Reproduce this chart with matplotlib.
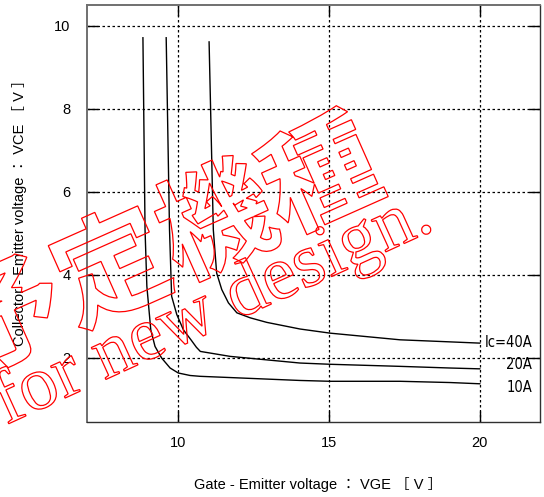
import matplotlib
matplotlib.use("Agg")
import matplotlib.pyplot as plt
import matplotlib.patheffects as pe

# Curves (VGE [V], VCE [V])
vge_10a = [8.85, 8.92, 8.98, 9.11, 9.25, 9.47, 9.75, 10.02, 10.41, 10.74, 11.74, 14.05, 15.05, 17.36, 19.02, 20.0]
vce_10a = [9.71, 5.08, 3.72, 2.67, 2.27, 1.99, 1.75, 1.63, 1.57, 1.55, 1.52, 1.45, 1.43, 1.43, 1.40, 1.37]

vge_20a = [9.62, 9.73, 9.80, 9.97, 10.19, 10.45, 10.62, 10.75, 11.74, 14.05, 15.05, 17.36, 19.02, 20.0]
vce_20a = [9.71, 5.08, 3.48, 3.04, 2.67, 2.42, 2.25, 2.15, 2.03, 1.87, 1.84, 1.79, 1.75, 1.73]

vge_40a = [11.04, 11.18, 11.29, 11.46, 11.68, 11.96, 12.40, 12.95, 13.50, 14.05, 15.05, 17.36, 19.02, 20.0]
vce_40a = [9.61, 5.08, 4.04, 3.64, 3.32, 3.08, 2.96, 2.85, 2.77, 2.69, 2.59, 2.43, 2.38, 2.35]

curve_labels = ["Ic=40A", "20A", "10A"]
label_y = [2.36, 1.83, 1.28]

x_ticks = [10, 15, 20]
y_ticks = [2, 4, 6, 8, 10]

fig = plt.figure(figsize=(5.44, 4.97), dpi=100)
ax = fig.add_axes([0.160, 0.151, 0.833, 0.839])

for xs, ys in [(vge_10a, vce_10a), (vge_20a, vce_20a), (vge_40a, vce_40a)]:
    ax.plot(xs, ys, color="black", lw=1.0)

ax.set_xlim(7, 22)
ax.set_ylim(0.45, 10.5)
ax.set_xticks(x_ticks)
ax.set_yticks(y_ticks)
ax.grid(True, color="black", linestyle=(0, (2, 2)), lw=0.9)

ax.tick_params(direction="in", length=8, width=1, top=True, right=True,
               labelsize=10.5, colors="black")
ax.tick_params(axis="y", pad=12)
ax.tick_params(axis="x", pad=10)
for lbl in ax.get_xticklabels() + ax.get_yticklabels():
    lbl.set_family("Liberation Sans")

for side in ["left", "top"]:
    ax.spines[side].set_color("#707070")
    ax.spines[side].set_linewidth(1.4)
for side in ["right", "bottom"]:
    ax.spines[side].set_color("#303030")
    ax.spines[side].set_linewidth(1.0)

for txt, yy in zip(curve_labels, label_y):
    ax.text(21.73, yy, txt, ha="right", va="center", fontsize=10.5,
            family="DejaVu Sans", fontstretch="condensed")

lab_fam = ["Liberation Sans", "Noto Sans CJK JP"]
ax.set_xlabel("Gate - Emitter voltage ： VGE ［ V ］", fontsize=10.5, family=lab_fam, va="center")
ax.xaxis.set_label_coords(0.51, -0.149)
ax.set_ylabel("Collector - Emitter voltage ： VCE ［ V ］", fontsize=10.5, family=lab_fam, va="center")
ax.yaxis.set_label_coords(-0.148, 0.51)

# red outlined watermark
outline = [pe.PathPatchEffect(edgecolor="red", facecolor="none", linewidth=0.9)]
fig.text(166 / 544, 1 - 250 / 497, "予定機種", fontsize=82, family="Noto Sans CJK JP",
         fontweight="bold", rotation=24, rotation_mode="anchor", ha="center", va="center",
         path_effects=outline)
fig.text(221 / 544, 1 - 327 / 497, "for new design.", fontsize=55, family="Liberation Serif",
         rotation=24.5, rotation_mode="anchor", ha="center", va="baseline",
         path_effects=outline)

fig.savefig("out.png", dpi=100)
